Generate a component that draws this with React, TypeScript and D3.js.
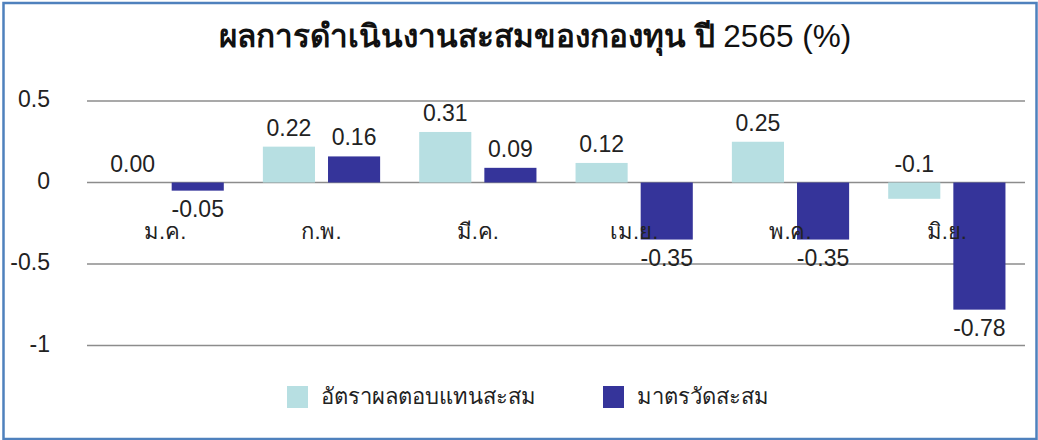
import React, { useEffect, useRef } from 'react';
import * as d3 from 'd3';

const months = ['ม.ค.', 'ก.พ.', 'มี.ค.', 'เม.ย.', 'พ.ค.', 'มิ.ย.'];
const fundReturn = [0.0, 0.22, 0.31, 0.12, 0.25, -0.1];
const benchmark = [-0.05, 0.16, 0.09, -0.35, -0.35, -0.78];
const fundLabels = ['0.00', '0.22', '0.31', '0.12', '0.25', '-0.1'];
const benchLabels = ['-0.05', '0.16', '0.09', '-0.35', '-0.35', '-0.78'];
const seriesNames = ['อัตราผลตอบแทนสะสม', 'มาตรวัดสะสม'];
const yTicks = [0.5, 0, -0.5, -1];
const yTickLabels = ['0.5', '0', '-0.5', '-1'];

const App: React.FC = () => {
  const svgRef = useRef<SVGSVGElement | null>(null);

  useEffect(() => {
    const svg = d3.select(svgRef.current);
    svg.selectAll('*').remove();
    const width = 1038;
    const height = 440;
    const margin = { left: 87, right: 13 };
    const colors = ['#b7dfe2', '#35349a'];
    const font = '"Liberation Sans", Arial, "Noto Sans", sans-serif';

    svg.attr('width', width).attr('height', height);

    // frame
    svg.append('rect')
      .attr('x', 3.5).attr('y', 3).attr('width', width - 5).attr('height', height - 4)
      .attr('fill', '#fff').attr('stroke', '#4f81bd').attr('stroke-width', 2.5);

    // Title
    const title = svg.append('text')
      .attr('x', 535).attr('y', 47)
      .attr('text-anchor', 'middle')
      .attr('font-family', font)
      .attr('font-size', 31.5)
      .attr('fill', '#111');
    title.append('tspan').attr('font-weight', 'bold').text('ผลการดำเนินงานสะสมของกองทุน ปี ');
    title.append('tspan').text('2565 (%)');

    const y = d3.scaleLinear().domain([-1, 0.5]).range([345.5, 101]);

    const x = d3.scaleBand<string>()
      .domain(months)
      .range([margin.left, width - margin.right])
      .paddingInner(0.25)
      .paddingOuter(0.125);

    const x1 = d3.scaleBand<number>()
      .domain([0, 1])
      .range([0, x.bandwidth()])
      .paddingInner(0.2);

    // grid lines
    svg.append('g')
      .selectAll('line')
      .data(yTicks)
      .enter()
      .append('line')
      .attr('x1', margin.left)
      .attr('x2', width - margin.right)
      .attr('y1', d => y(d))
      .attr('y2', d => y(d))
      .attr('stroke', '#8c8c8c')
      .attr('stroke-width', 1.5);

    // Y labels
    svg.append('g')
      .selectAll('text')
      .data(yTicks)
      .enter()
      .append('text')
      .attr('x', 50)
      .attr('y', d => y(d) + 6)
      .attr('text-anchor', 'end')
      .attr('font-family', font)
      .attr('font-size', 23)
      .attr('fill', '#222')
      .text((d, i) => yTickLabels[i]);

    const series = [fundReturn, benchmark];
    const labels = [fundLabels, benchLabels];

    // bars
    series.forEach((vals, s) => {
      svg.append('g')
        .selectAll('rect')
        .data(vals)
        .enter()
        .append('rect')
        .attr('x', (d, i) => (x(months[i]) as number) + (x1(s) as number))
        .attr('y', d => y(Math.max(d, 0)))
        .attr('width', x1.bandwidth())
        .attr('height', d => Math.abs(y(d) - y(0)))
        .attr('fill', colors[s]);
    });

    // Category labels
    svg.append('g')
      .selectAll('text')
      .data(months)
      .enter()
      .append('text')
      .attr('x', d => (x(d) as number) + x.bandwidth() / 2)
      .attr('y', y(0) + 56)
      .attr('text-anchor', 'middle')
      .attr('font-family', font)
      .attr('font-size', 22)
      .attr('fill', '#222')
      .text(d => d);

    // value labels
    series.forEach((vals, s) => {
      svg.append('g')
        .selectAll('text')
        .data(vals)
        .enter()
        .append('text')
        .attr('x', (d, i) => (x(months[i]) as number) + (x1(s) as number) + x1.bandwidth() / 2)
        .attr('y', d => {
          if (s === 0 || d >= 0) return y(Math.max(d, 0)) - 11;
          return y(d) + 26;
        })
        .attr('text-anchor', 'middle')
        .attr('font-family', font)
        .attr('font-size', 23)
        .attr('fill', '#222')
        .text((d, i) => labels[s][i]);
    });

    // Legend
    const legendX = [287, 603];
    const legend = svg.append('g');
    seriesNames.forEach((name, i) => {
      legend.append('rect')
        .attr('x', legendX[i]).attr('y', 386)
        .attr('width', 21).attr('height', 22)
        .attr('fill', colors[i]);
      legend.append('text')
        .attr('x', legendX[i] + 34).attr('y', 404)
        .attr('font-family', font)
        .attr('font-size', 22)
        .attr('fill', '#222')
        .text(name);
    });
  }, []);

  return (
    <svg ref={svgRef} style={{ position: 'absolute', left: 0, top: 0 }}></svg>
  );
};

export default App;
